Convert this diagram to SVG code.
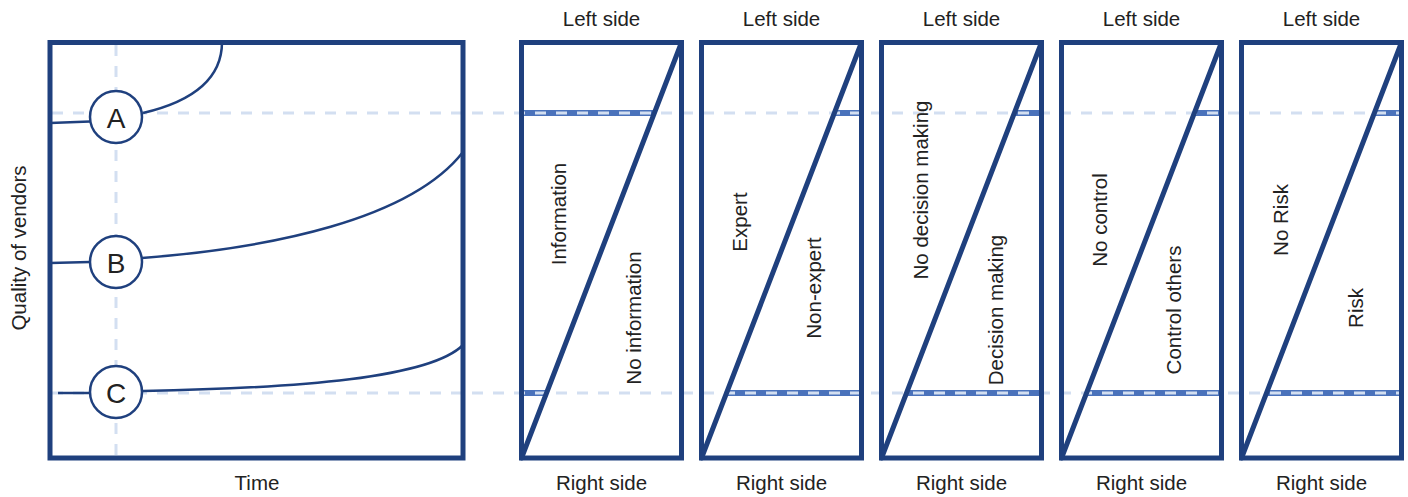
<svg xmlns="http://www.w3.org/2000/svg" width="1408" height="497" viewBox="0 0 1408 497">
<style>
.box{fill:none;stroke:#1f407e;stroke-width:5}
.diag{stroke:#1f407e;stroke-width:5;stroke-linecap:round}
.curve{fill:none;stroke:#1f407e;stroke-width:2.5}
.dash{stroke:#d3dff1;stroke-width:3;stroke-dasharray:11 10;fill:none}
.bar{stroke:#4a72bb;stroke-width:6}
.node{fill:#fff;stroke:#1f407e;stroke-width:2.5}
.t{font-family:"Liberation Sans",Arial,sans-serif;font-size:20.5px;fill:#222;text-anchor:middle}
.lbl{font-family:"Liberation Sans",Arial,sans-serif;font-size:28px;fill:#222;text-anchor:middle;dominant-baseline:central}
.r{dominant-baseline:central}
</style>
<g id="bars">
<line class="bar" x1="521.5" y1="113" x2="654" y2="113"/>
<line class="bar" x1="521.5" y1="393" x2="546.5" y2="393"/>
<line class="bar" x1="834" y1="113" x2="861.5" y2="113"/>
<line class="bar" x1="726.5" y1="393" x2="861.5" y2="393"/>
<line class="bar" x1="1014" y1="113" x2="1041.5" y2="113"/>
<line class="bar" x1="906.5" y1="393" x2="1041.5" y2="393"/>
<line class="bar" x1="1194" y1="113" x2="1221.5" y2="113"/>
<line class="bar" x1="1086.5" y1="393" x2="1221.5" y2="393"/>
<line class="bar" x1="1374" y1="113" x2="1401.5" y2="113"/>
<line class="bar" x1="1266.5" y1="393" x2="1401.5" y2="393"/>
</g>
<g id="guides">
<line class="dash" x1="52" y1="113" x2="1401" y2="113"/>
<line class="dash" x1="52" y1="393" x2="1401" y2="393"/>
<line class="dash" x1="116" y1="45" x2="116" y2="456"/>
</g>
<g id="connectors">
<path class="curve" d="M50,123 L90,121.5"/>
<path class="curve" d="M143,113 C190,102 222,80 222,42"/>
<path class="curve" d="M50,263 L90,262"/>
<path class="curve" d="M142,258 C270,248 410,220 463,152"/>
<path class="curve" d="M58,393 L90,393"/>
<path class="curve" d="M143,391 C300,388 430,378 463,345"/>
</g>
<g id="chart">
<rect class="box" x="50" y="42.5" width="413" height="415.5"/>
<text class="t" x="257" y="490">Time</text>
<text class="t r" transform="translate(18,248) rotate(-90)">Quality of vendors</text>
</g>
<g id="nodeA"><circle class="node" cx="116" cy="117" r="26"/><text class="lbl" x="116" y="118">A</text></g>
<g id="nodeB"><circle class="node" cx="116" cy="262" r="26"/><text class="lbl" x="116" y="263">B</text></g>
<g id="nodeC"><circle class="node" cx="116" cy="392" r="26"/><text class="lbl" x="116" y="393">C</text></g>
<g id="panel1">
<rect class="box" x="521.5" y="42.5" width="160" height="415.5"/>
<line class="diag" x1="521.5" y1="458" x2="681.5" y2="42.5"/>
<text class="t" x="601.5" y="26">Left side</text>
<text class="t" x="601.5" y="490">Right side</text>
<text class="t r" transform="translate(558,214) rotate(-90)">Information</text>
<text class="t r" transform="translate(633,318) rotate(-90)">No information</text>
</g>
<g id="panel2">
<rect class="box" x="701.5" y="42.5" width="160" height="415.5"/>
<line class="diag" x1="701.5" y1="458" x2="861.5" y2="42.5"/>
<text class="t" x="781.5" y="26">Left side</text>
<text class="t" x="781.5" y="490">Right side</text>
<text class="t r" transform="translate(739,222) rotate(-90)">Expert</text>
<text class="t r" transform="translate(813,288) rotate(-90)">Non-expert</text>
</g>
<g id="panel3">
<rect class="box" x="881.5" y="42.5" width="160" height="415.5"/>
<line class="diag" x1="881.5" y1="458" x2="1041.5" y2="42.5"/>
<text class="t" x="961.5" y="26">Left side</text>
<text class="t" x="961.5" y="490">Right side</text>
<text class="t r" transform="translate(920,190) rotate(-90)">No decision making</text>
<text class="t r" transform="translate(995,310) rotate(-90)">Decision making</text>
</g>
<g id="panel4">
<rect class="box" x="1061.5" y="42.5" width="160" height="415.5"/>
<line class="diag" x1="1061.5" y1="458" x2="1221.5" y2="42.5"/>
<text class="t" x="1141.5" y="26">Left side</text>
<text class="t" x="1141.5" y="490">Right side</text>
<text class="t r" transform="translate(1099,220) rotate(-90)">No control</text>
<text class="t r" transform="translate(1173,310) rotate(-90)">Control others</text>
</g>
<g id="panel5">
<rect class="box" x="1241.5" y="42.5" width="160" height="415.5"/>
<line class="diag" x1="1241.5" y1="458" x2="1401.5" y2="42.5"/>
<text class="t" x="1321.5" y="26">Left side</text>
<text class="t" x="1321.5" y="490">Right side</text>
<text class="t r" transform="translate(1280,220) rotate(-90)">No Risk</text>
<text class="t r" transform="translate(1355,308) rotate(-90)">Risk</text>
</g>
</svg>
